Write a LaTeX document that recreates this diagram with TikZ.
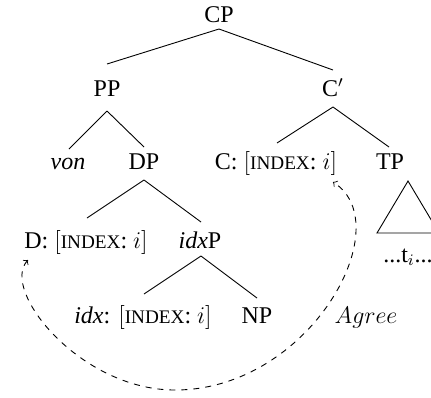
\documentclass[tikz,border=0pt]{standalone}
\usepackage{fontspec}
\setmainfont{Liberation Serif}
\usetikzlibrary{calc}
% small capitals imitated by reduced upper case
\newcommand{\featsc}[1]{{\fontsize{9.6}{10}\selectfont #1}}
\newcommand{\indexfeat}{$[$\featsc{INDEX}: $i]$}
\begin{document}
\begin{tikzpicture}[x=0.5pt,y=-0.5pt,
  lbl/.style={anchor=base,inner sep=0pt,font=\fontsize{12}{14}\selectfont},
  branch/.style={line width=0.45pt},
  agreearc/.style={dashed,line width=0.45pt,<->}]
\clip (0,0) rectangle (431,397);
% labels, placed by their baselines
\node[lbl] (CP)   at (219,22)  {CP};
\node[lbl] (PP)   at (107,96)  {PP};
\node[lbl] (Cbar) at (333,96)  {C$'$};
\node[lbl] (von)  at (68,169)  {\textit{von}};
\node[lbl] (DP)   at (144,169) {DP};
\node[lbl] (C)    at (276,169) {C: \indexfeat};
\node[lbl] (TP)   at (390,169) {TP};
\node[lbl] (D)    at (86,248)  {D: \indexfeat};
\node[lbl] (idxP) at (200,248) {\textit{idx}P};
\node[lbl] (idx)  at (143,323) {\textit{idx}: \indexfeat};
\node[lbl] (NP)   at (257,323) {NP};
\node[lbl] (ti)   at (408,262) {...t$_i$...};
\node[lbl] (agr)  at (366,323) {$Agree$};
% branches
\draw[branch] ($(CP.base)+(0,7)$) -- ($(PP.base)+(0,-32)$);
\draw[branch] ($(CP.base)+(0,7)$) -- ($(Cbar.base)+(0,-26)$);
\draw[branch] ($(PP.base)+(0,15)$) -- ($(von.base)+(1,-20)$);
\draw[branch] ($(PP.base)+(0,15)$) -- ($(DP.base)+(0,-22)$);
\draw[branch] ($(Cbar.base)+(0,11)$) -- ($(C.base)+(1,-26)$);
\draw[branch] ($(Cbar.base)+(0,11)$) -- ($(TP.base)+(-1,-22)$);
\draw[branch] ($(DP.base)+(0,11)$) -- ($(D.base)+(1,-30)$);
\draw[branch] ($(DP.base)+(0,11)$) -- ($(idxP.base)+(1,-26)$);
\draw[branch] ($(idxP.base)+(1,8)$) -- ($(idx.base)+(1,-29)$);
\draw[branch] ($(idxP.base)+(1,8)$) -- ($(NP.base)+(0,-25)$);
% roof over the TP content
\draw[branch] ($(ti.base)+(0,-81)$) -- ($(ti.base)+(-31,-29)$)
  -- ($(ti.base)+(31,-29)$) -- cycle;
% agreement arc between the two index features
\coordinate (dend) at ($(D.base)+(-58,12)$);
\coordinate (cend) at ($(C.base)+(57,13)$);
\draw[agreearc] (dend) .. controls (0,290) and (80,390) .. (175,390)
  .. controls (310,390) and (400,225) .. (cend);
\end{tikzpicture}
\end{document}
